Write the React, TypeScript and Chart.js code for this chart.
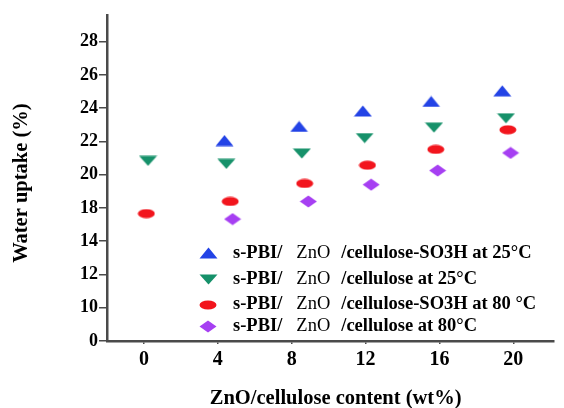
import React, { useEffect, useRef } from 'react';
import { Chart, registerables } from 'chart.js';

Chart.register(...registerables);

// ---- axis ticks ----
const xTickValues = [0, 4, 8, 12, 16, 20];
const xTickLabels = ['0', '4', '8', '12', '16', '20'];
const yTickValues = [10, 12, 14, 16, 18, 20, 22, 24, 26, 28];
const yTickLabels = ['0', '10', '12', '14', '18', '20', '22', '24', '26', '28'];

// ---- series ----
const legendPrefix = 's-PBI/';
const legendMiddle = 'ZnO';
const legendSuffixes = [
  '/cellulose-SO3H at 25°C',
  '/cellulose at 25°C',
  '/cellulose-SO3H at 80 °C',
  '/cellulose at 80°C',
];
const seriesColors = ['#2343e6', '#16916a', '#f2151d', '#a63ff2'];
const seriesShapes = ['up', 'down', 'ellipse', 'diamond'];

const xSO3H25 = [4.36, 8.4, 11.85, 15.55, 19.4];
const ySO3H25 = [22.05, 22.9, 23.83, 24.4, 25.04];

const xCell25 = [0.22, 4.46, 8.55, 11.95, 15.7, 19.6];
const yCell25 = [20.83, 20.65, 21.27, 22.2, 22.83, 23.39];

const xSO3H80 = [0.13, 4.67, 8.7, 12.1, 15.8, 19.7];
const ySO3H80 = [17.66, 18.39, 19.47, 20.57, 21.52, 22.7];

const xCell80 = [4.8, 8.9, 12.3, 15.9, 19.85];
const yCell80 = [17.33, 18.39, 19.4, 20.25, 21.31];

const seriesX = [xSO3H25, xCell25, xSO3H80, xCell80];
const seriesY = [ySO3H25, yCell25, ySO3H80, yCell80];

const FAMILY = "'Times New Roman', 'Liberation Serif', serif";

function makeMarker(shape: string, color: string): HTMLCanvasElement {
  const c = document.createElement('canvas');
  let w = 18, h = 12;
  if (shape === 'up') { w = 19; h = 12; }
  if (shape === 'down') { w = 19; h = 11; }
  if (shape === 'ellipse') { w = 18; h = 10; }
  if (shape === 'diamond') { w = 18; h = 13; }
  c.width = w; c.height = h;
  const ctx = c.getContext('2d')!;
  ctx.fillStyle = color;
  ctx.beginPath();
  if (shape === 'up') {
    ctx.moveTo(w / 2, 0.5); ctx.lineTo(w - 0.5, h - 0.5); ctx.lineTo(0.5, h - 0.5);
  } else if (shape === 'down') {
    ctx.moveTo(0.5, 0.5); ctx.lineTo(w - 0.5, 0.5); ctx.lineTo(w / 2, h - 0.5);
  } else if (shape === 'ellipse') {
    ctx.ellipse(w / 2, h / 2, w / 2 - 0.5, h / 2 - 0.5, 0, 0, Math.PI * 2);
  } else {
    ctx.moveTo(w / 2, 0.5); ctx.lineTo(w - 0.5, h / 2); ctx.lineTo(w / 2, h - 0.5); ctx.lineTo(0.5, h / 2);
  }
  ctx.closePath();
  ctx.fill();
  return c;
}

const legendPlugin = {
  id: 'customLegend',
  afterDraw(chart: any) {
    const ctx = chart.ctx as CanvasRenderingContext2D;
    const rowsY = [253, 279, 304.5, 326];
    const markerX = 208;
    const textX = 233;
    const gap1 = 14;
    const gap2 = 11;
    const size = 18.5;
    ctx.save();
    ctx.textBaseline = 'middle';
    ctx.textAlign = 'left';
    ctx.fillStyle = '#000';
    chart.data.datasets.forEach((ds: any, i: number) => {
      const img = ds.pointStyle as HTMLCanvasElement;
      const cy = rowsY[i];
      ctx.drawImage(img, Math.round(markerX - img.width / 2), Math.round(cy - img.height / 2));
      let x = textX;
      ctx.font = `bold ${size}px ${FAMILY}`;
      ctx.fillText(legendPrefix, x, cy);
      x += ctx.measureText(legendPrefix).width + gap1;
      ctx.font = `${size}px ${FAMILY}`;
      ctx.fillText(legendMiddle, x, cy);
      x += ctx.measureText(legendMiddle).width + gap2;
      ctx.font = `bold ${size}px ${FAMILY}`;
      ctx.fillText(legendSuffixes[i], x, cy);
    });
    ctx.restore();
  },
};

export default function App() {
  const ref = useRef<HTMLCanvasElement>(null);

  useEffect(() => {
    const markers = seriesShapes.map((s, i) => makeMarker(s, seriesColors[i]));
    const axisColor = '#4a4a4a';
    const chart = new Chart(ref.current!, {
      type: 'scatter',
      data: {
        datasets: seriesX.map((xs, i) => ({
          label: `${legendPrefix} ${legendMiddle} ${legendSuffixes[i]}`,
          data: xs.map((x, j) => ({ x, y: seriesY[i][j] })),
          pointStyle: markers[i] as any,
          pointRadius: 9,
          backgroundColor: seriesColors[i],
          borderColor: seriesColors[i],
          showLine: false,
        })),
      },
      options: {
        responsive: false,
        animation: false,
        layout: { padding: { top: 15, left: 0, right: 0, bottom: 0 } },
        plugins: {
          legend: { display: false },
          tooltip: { enabled: false },
        },
        scales: {
          x: {
            type: 'linear',
            min: -2,
            max: 22.2,
            afterBuildTicks: (scale: any) => {
              scale.ticks = xTickValues.map((v) => ({ value: v }));
            },
            afterFit: (scale: any) => {
              scale.height = 67;
            },
            ticks: {
              callback: (_v: any, i: number) => xTickLabels[i],
              color: '#000',
              padding: 4,
              maxRotation: 0,
              font: { family: FAMILY, size: 20, weight: 'bold' },
            },
            grid: {
              drawOnChartArea: false,
              tickLength: 3,
              color: axisColor,
              lineWidth: 1.5,
            },
            border: { color: axisColor, width: 2.5 },
            title: {
              display: true,
              text: '  ZnO/cellulose content (wt%)',
              color: '#000',
              font: { family: FAMILY, size: 20.5, weight: 'bold', lineHeight: 1 },
              padding: { top: 0, bottom: -1 },
            },
          },
          y: {
            type: 'linear',
            min: 10,
            max: 29.6,
            afterBuildTicks: (scale: any) => {
              scale.ticks = yTickValues.map((v) => ({ value: v }));
            },
            afterFit: (scale: any) => {
              scale.width = 107;
            },
            ticks: {
              callback: (_v: any, i: number) => yTickLabels[i],
              color: '#000',
              padding: 1,
              font: { family: FAMILY, size: 18, weight: 'bold' },
            },
            grid: {
              drawOnChartArea: false,
              tickLength: 8,
              color: axisColor,
              lineWidth: 1.5,
            },
            border: { color: axisColor, width: 2.5 },
            title: {
              display: true,
              text: 'Water uptake (%)  ',
              color: '#000',
              font: { family: FAMILY, size: 20.5, weight: 'bold', lineHeight: 1 },
              padding: { top: 11, bottom: 0 },
            },
          },
        },
      },
      plugins: [legendPlugin],
    });
    return () => chart.destroy();
  }, []);

  return (
    <div style={{ position: 'fixed', left: 0, top: 0, width: 564, height: 408, background: '#fff' }}>
      <canvas ref={ref} width={564} height={408} style={{ display: 'block', width: 564, height: 408 }} />
    </div>
  );
}
